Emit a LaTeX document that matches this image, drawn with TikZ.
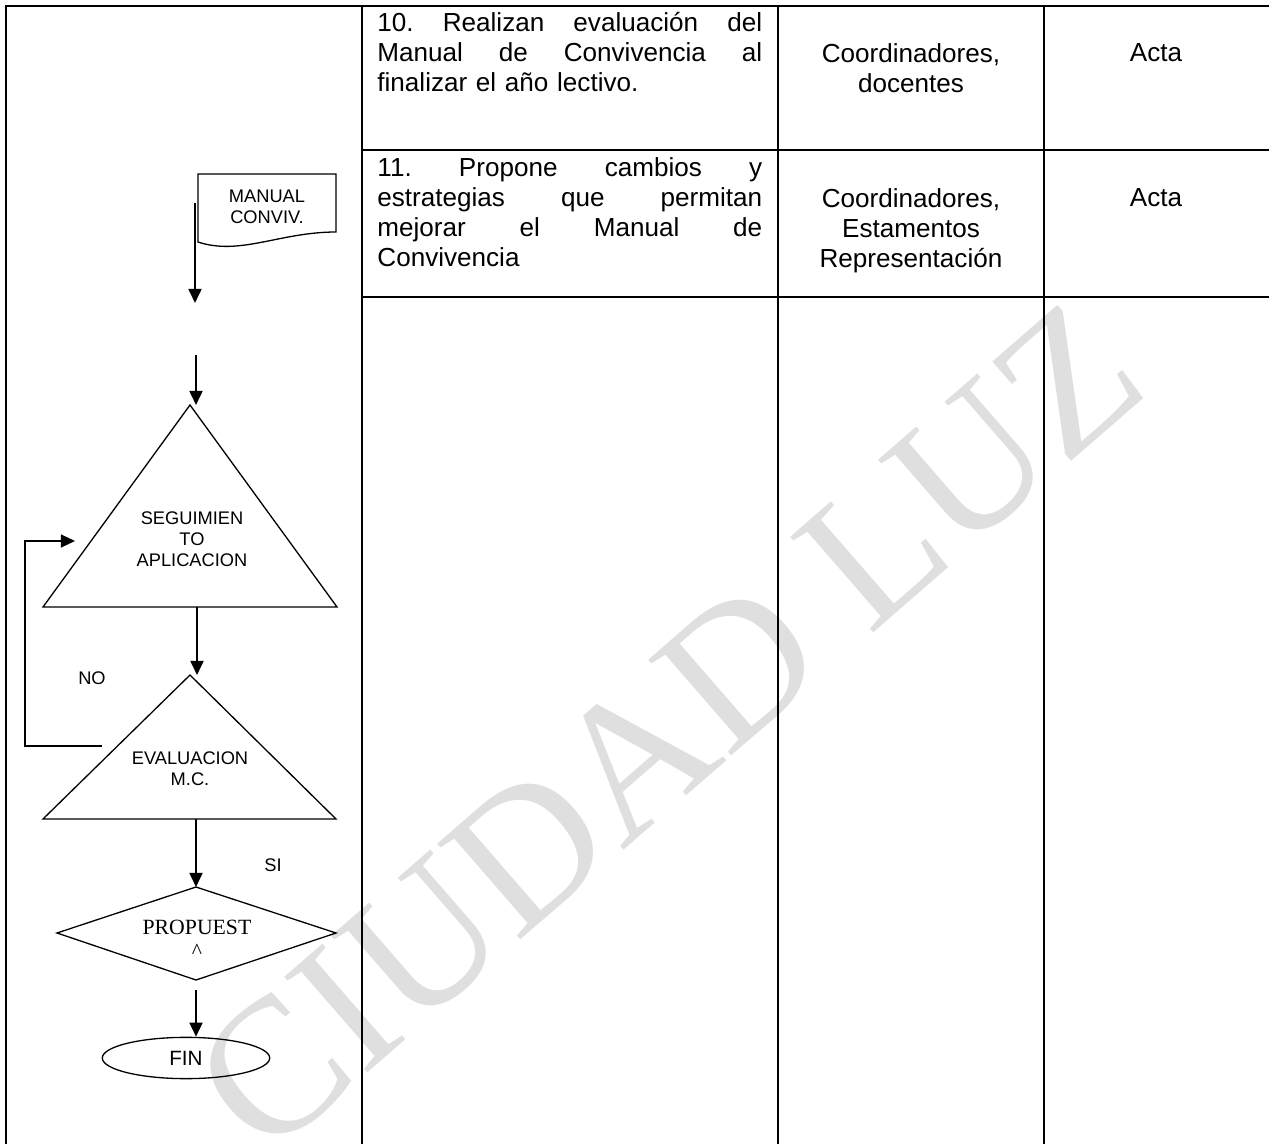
\documentclass[tikz,border=0pt]{standalone}
\usepackage{fontspec}
\setmainfont{Liberation Sans}
\newfontfamily\serifa{Liberation Serif}
\usetikzlibrary{arrows.meta,shapes.geometric}

\newlength{\anchocol}
\setlength{\anchocol}{177pt}
\newcommand{\renglon}[1]{\par\noindent\hbox to \anchocol{#1}\par}

\begin{document}
\begin{tikzpicture}[x=0.46pt, y=-0.46pt,
    rejilla/.style={line width=1.1pt},
    figura/.style={line width=0.6pt},
    flecha/.style={line width=0.9pt, -{Triangle[length=6.5pt,width=6pt]}},
    retorno/.style={line width=0.6pt, -{Triangle[length=6.5pt,width=6pt]}},
    etiq/.style={font=\fontsize{8.4}{9.7}\selectfont, align=center, inner sep=0pt},
    celda/.style={font=\fontsize{12}{13.8}\selectfont, inner sep=0pt}]
  \useasboundingbox (0,0) rectangle (1269,1144);

  % Watermark behind everything
  \begin{scope}
    \clip (0,0) rectangle (1269,1144);
    \node[rotate=41, text=gray!25, font=\serifa\fontsize{89}{89}\selectfont, inner sep=0pt]
      (marca) at (668,728) {CIUDAD LUZ};
  \end{scope}

  % Table lines
  \draw[rejilla] (6,1144) -- (6,6) -- (1269,6);
  \draw[rejilla] (362,6) -- (362,1144);
  \draw[rejilla] (778,6) -- (778,1144);
  \draw[rejilla] (1044,6) -- (1044,1144);
  \draw[rejilla] (362,150) -- (1269,150);
  \draw[rejilla] (362,297) -- (1269,297);

  % Step 10
  \node[celda, anchor=north west, text width=\anchocol] (act10) at (377,1.5) {%
    \renglon{10.\hfill Realizan\hfill evaluación\hfill del}%
    \renglon{Manual\hfill de\hfill Convivencia\hfill al}%
    \renglon{finalizar el año lectivo.\hfill}};
  \node[celda, anchor=north, align=center] (resp10) at (911,43.5) {Coordinadores,\\docentes};
  \node[celda, anchor=north] (reg10) at (1156,43.5) {Acta};

  % Step 11
  \node[celda, anchor=north west, text width=\anchocol] (act11) at (377,146) {%
    \renglon{11.\hfill Propone\hfill cambios\hfill y}%
    \renglon{estrategias\hfill que\hfill permitan}%
    \renglon{mejorar\hfill el\hfill Manual\hfill de}%
    \renglon{Convivencia\hfill}};
  \node[celda, anchor=north, align=center] (resp11) at (911,188) {Coordinadores,\\Estamentos\\Representación};
  \node[celda, anchor=north] (reg11) at (1156,188) {Acta};

  % Document symbol
  \draw[figura] (198,174) -- (336,174) -- (336,232)
    .. controls (280,232) and (240,256) .. (198,242) -- cycle;
  \node[etiq] (manual) at (267,206.5) {MANUAL\\CONVIV.};
  \coordinate (docsal) at (195,203);
  \coordinate (docfin) at (195,303);
  \draw[flecha] (docsal) -- (docfin);

  % Triangle: seguimiento
  \coordinate (t1) at (190,405);
  \coordinate (t1base) at (197,607);
  \draw[figura] (t1) -- (337,607) -- (43,607) -- cycle;
  \node[etiq] (seguim) at (192,539) {SEGUIMIEN\\TO\\APLICACION};
  \coordinate (entra) at (196,355);
  \draw[flecha] (entra) -- (entra |- t1);

  % Triangle: evaluacion
  \coordinate (t2) at (190,675);
  \coordinate (t2base) at (196,819);
  \draw[figura] (t2) -- (336,819) -- (43,819) -- cycle;
  \node[etiq] (evalmc) at (190,769) {EVALUACION\\M.C.};
  \draw[flecha] (t1base) -- (t1base |- t2);

  % NO branch back up
  \coordinate (nosal) at (102,746);
  \coordinate (nollega) at (75,541);
  \draw[retorno] (nosal) -- (25,746) -- (25,541) -- (nollega);
  \node[etiq] (no) at (92,678) {NO};

  % Diamond: propuesta
  \coordinate (pn) at (196,887);
  \coordinate (pe) at (336,933);
  \coordinate (ps) at (196,980);
  \coordinate (pw) at (57,933);
  \draw[figura] (pn) -- (pe) -- (ps) -- (pw) -- cycle;
  \node[etiq, font=\serifa\fontsize{10}{11}\selectfont] (propuesta) at (197,939) {PROPUEST\\\textasciicircum};
  \draw[flecha] (t2base) -- (pn);
  \node[etiq] (si) at (273,865) {SI};

  % End
  \node[draw, ellipse, figura, minimum width=77pt, minimum height=19pt, inner sep=0pt,
    font=\fontsize{9.5}{11}\selectfont] (fin) at (186,1058) {FIN};
  \coordinate (psal) at (196,990);
  \draw[flecha] (psal) -- (psal |- fin.north);
\end{tikzpicture}
\end{document}
